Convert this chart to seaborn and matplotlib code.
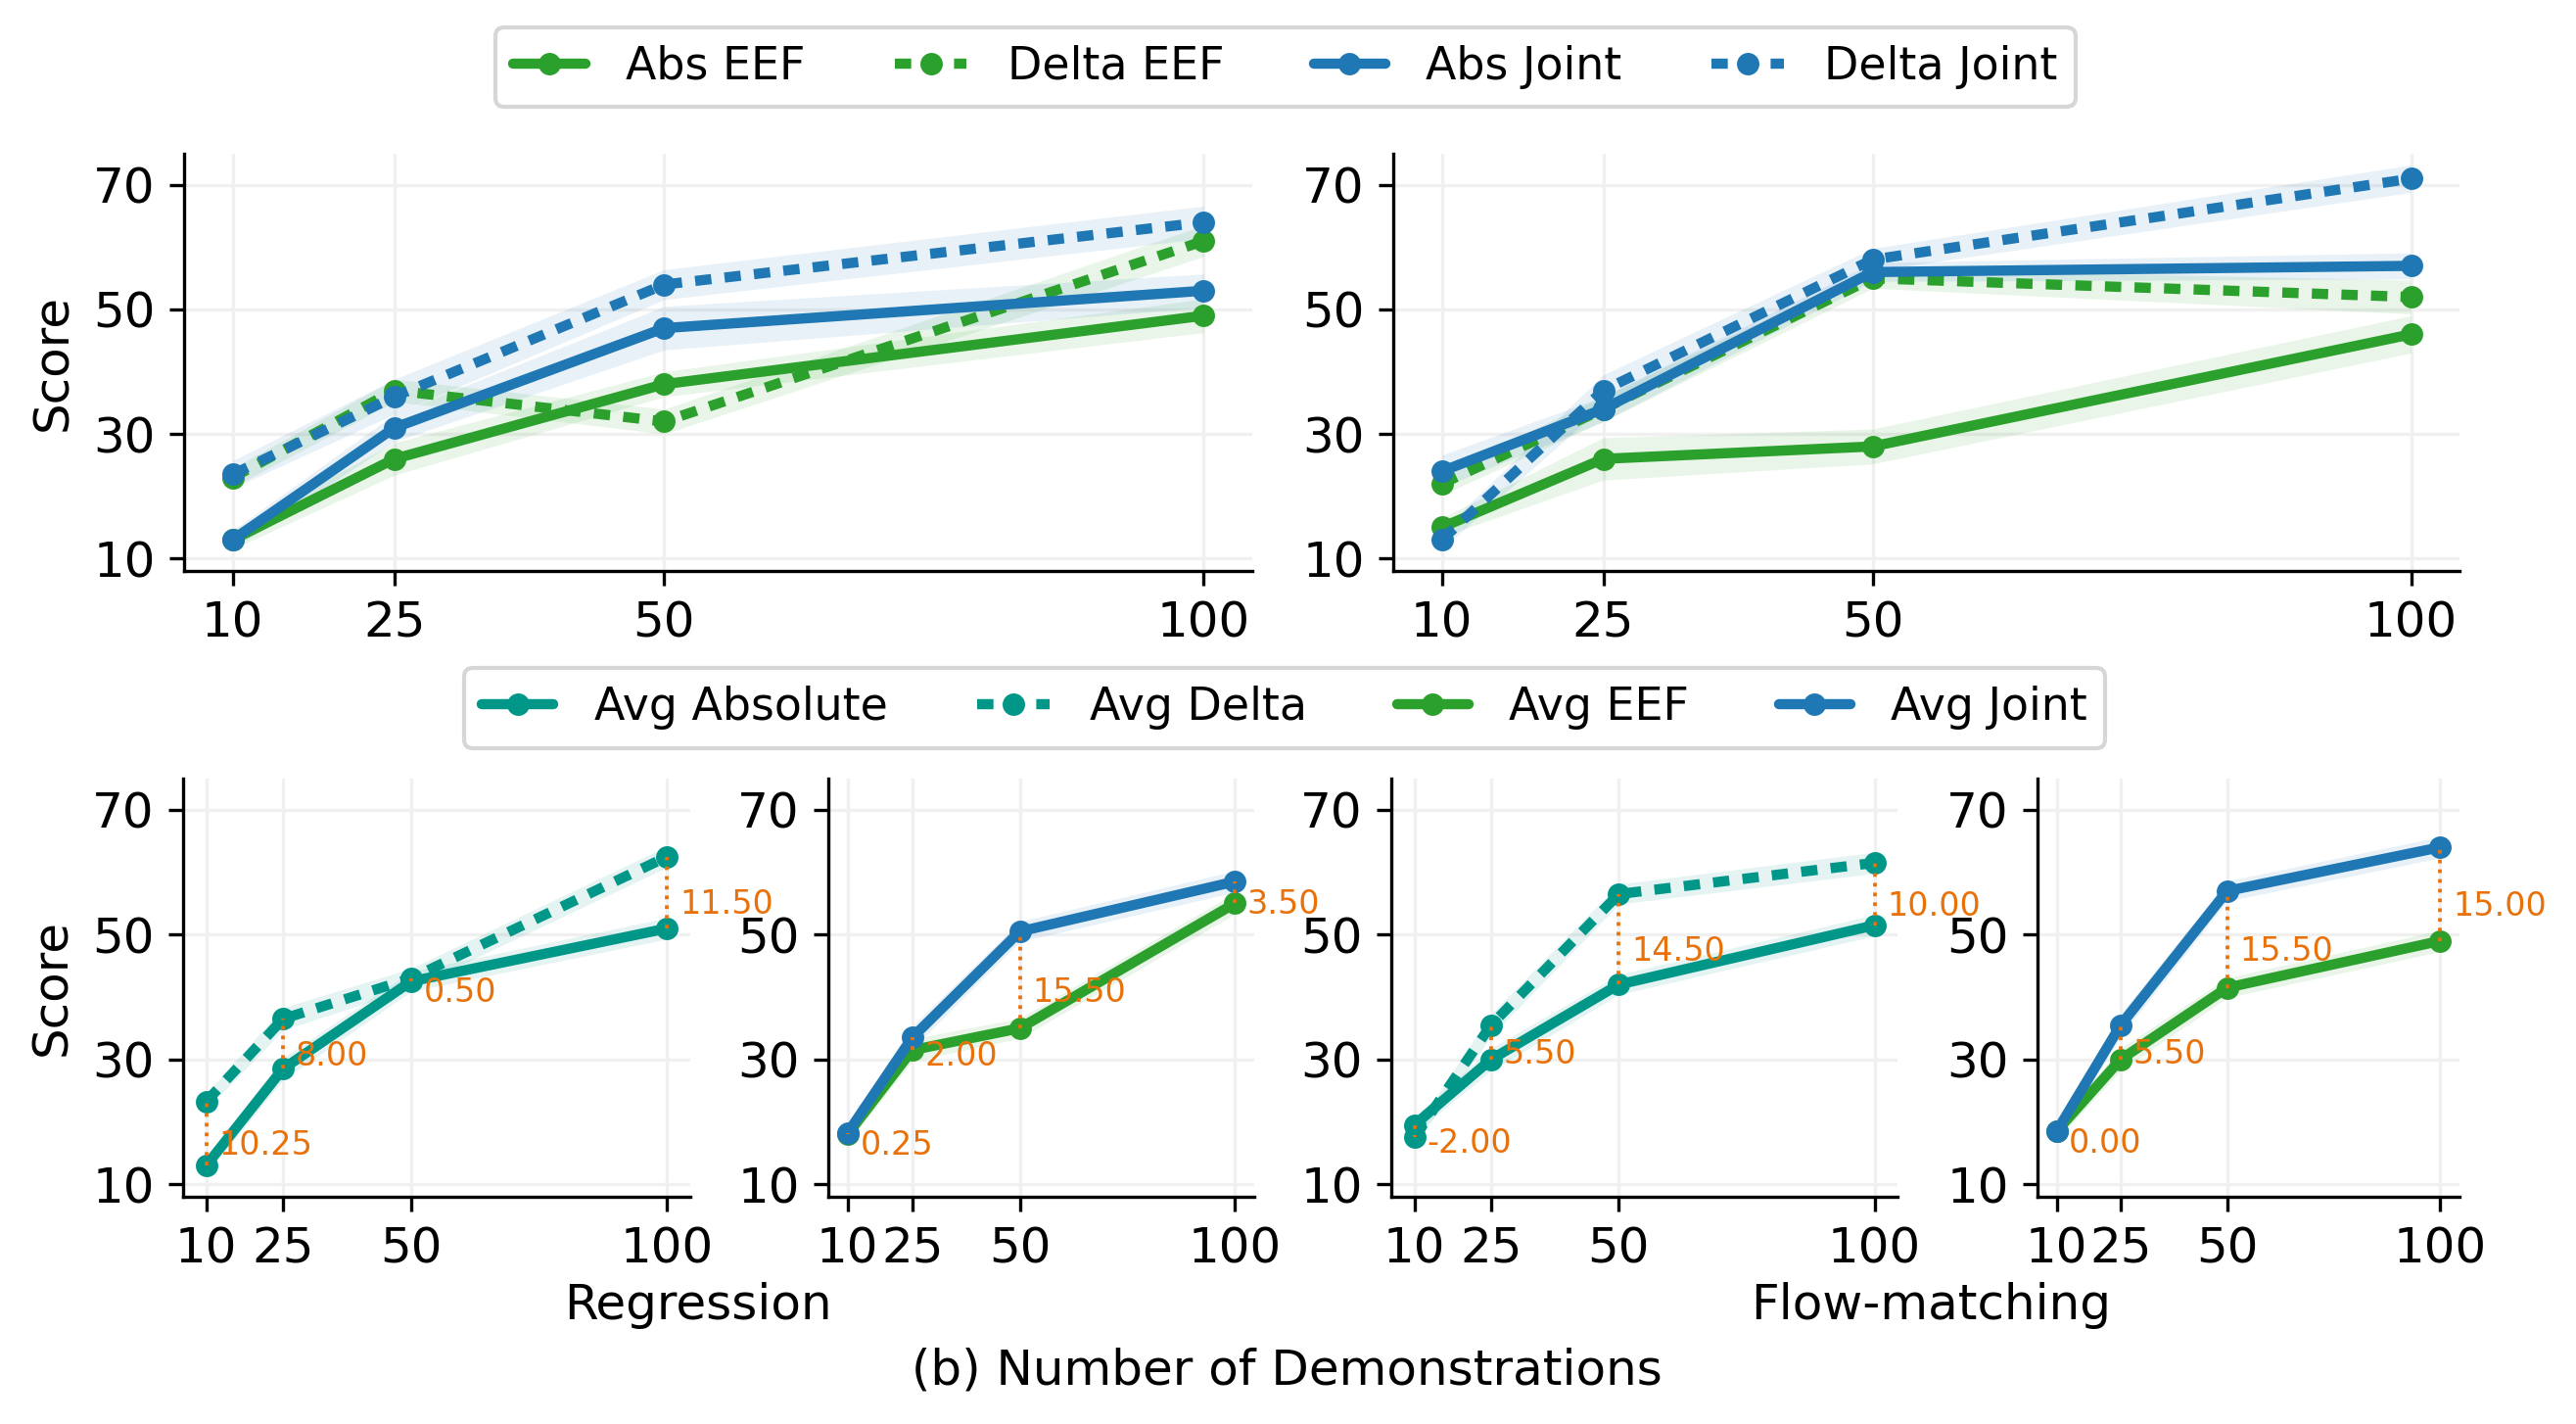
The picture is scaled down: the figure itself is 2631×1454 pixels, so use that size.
import matplotlib
matplotlib.use("Agg")
import matplotlib.pyplot as plt
import seaborn as sns
from matplotlib.lines import Line2D

# ---- data ----
demos = [10, 25, 50, 100]

# top row: per action-space scores (mean) and band half-widths
reg_abs_eef = [13, 26, 38, 49]
reg_delta_eef = [23, 37, 32, 61]
reg_abs_joint = [13, 31, 47, 53]
reg_delta_joint = [23.5, 36, 54, 64]
reg_abs_eef_err = [1.5, 2.6, 2.0, 2.7]
reg_delta_eef_err = [1.5, 1.8, 2.0, 2.5]
reg_abs_joint_err = [1.5, 2.2, 3.5, 2.7]
reg_delta_joint_err = [2.2, 2.8, 2.4, 2.6]

flow_abs_eef = [15, 26, 28, 46]
flow_delta_eef = [22, 34, 55, 52]
flow_abs_joint = [24, 34, 56, 57]
flow_delta_joint = [13, 37, 58, 71]
flow_abs_eef_err = [1.5, 3.4, 2.8, 3.0]
flow_delta_eef_err = [1.8, 2.0, 1.6, 2.7]
flow_abs_joint_err = [2.6, 2.0, 1.5, 2.1]
flow_delta_joint_err = [1.5, 2.5, 1.8, 2.2]

# bottom row: averaged scores
reg_avg_abs = [13, 28.5, 42.5, 51]
reg_avg_delta = [23.25, 36.5, 43, 62.5]
reg_avg_eef = [18, 31.5, 35, 55]
reg_avg_joint = [18.25, 33.5, 50.5, 58.5]
flow_avg_abs = [19.5, 30, 42, 51.5]
flow_avg_delta = [17.5, 35.5, 56.5, 61.5]
flow_avg_eef = [18.5, 30, 41.5, 49]
flow_avg_joint = [18.5, 35.5, 57, 64]
avg_err = [1.3, 1.8, 1.6, 1.7]

GREEN = "#2ca02c"
BLUE = "#1f77b4"
TEAL = "#009688"
ORANGE = "#e8710a"
DASH = (0, (1.6, 1.3))

sns.set_theme(style="ticks", rc={
    "axes.edgecolor": "black", "text.color": "black",
    "axes.labelcolor": "black", "xtick.color": "black",
    "ytick.color": "black", "xtick.labelsize": 12, "ytick.labelsize": 12,
    "axes.labelsize": 12, "axes.linewidth": 0.8,
    "xtick.major.size": 3.5, "ytick.major.size": 3.5,
    "xtick.major.width": 0.8, "ytick.major.width": 0.8,
    "xtick.major.pad": 3.5, "ytick.major.pad": 3.5,
})
plt.rcParams["font.family"] = ["DejaVu Sans"]

W, H = 2631, 1454
fig = plt.figure(figsize=(W / 300, H / 300), dpi=300)


def px_axes(x0, x1, y0, y1):
    return fig.add_axes([x0 / W, 1 - y1 / H, (x1 - x0) / W, (y1 - y0) / H])


def draw_series(ax, y, err, color, dashed, label):
    lo = [v - e for v, e in zip(y, err)]
    hi = [v + e for v, e in zip(y, err)]
    ax.fill_between(demos, lo, hi, color=color, alpha=0.1, linewidth=0)
    sns.lineplot(x=demos, y=y, ax=ax, color=color, marker="o",
                 markersize=5.5, markeredgewidth=0, linewidth=2.5,
                 linestyle=DASH if dashed else "-", label=label)


def style_axes(ax, ylabel=False):
    ax.set_xticks(demos)
    ax.set_yticks([10, 30, 50, 70])
    ax.set_ylim(8, 75)
    ax.margins(x=0.05)
    ax.grid(True, color="#f0f0f0", linewidth=0.8)
    ax.set_axisbelow(True)
    ax.set_xlabel("")
    ax.set_ylabel("Score" if ylabel else "")
    sns.despine(ax=ax)
    if ax.get_legend() is not None:
        ax.get_legend().remove()


def annotate_gap(ax, base, other):
    for x, a, b in zip(demos, base, other):
        ax.plot([x, x], [a, b], linestyle=":", color=ORANGE, linewidth=0.9, zorder=5)
        ax.annotate(f"{b - a:.2f}", xy=(x, (a + b) / 2), xytext=(3, -3),
                    textcoords="offset points", ha="left", va="center",
                    fontsize=8, color=ORANGE, annotation_clip=False, zorder=6)


# ---- top row ----
top_panels = [
    ((188, 1279), [(reg_abs_eef, reg_abs_eef_err), (reg_delta_eef, reg_delta_eef_err),
                   (reg_abs_joint, reg_abs_joint_err), (reg_delta_joint, reg_delta_joint_err)], True),
    ((1423, 2512), [(flow_abs_eef, flow_abs_eef_err), (flow_delta_eef, flow_delta_eef_err),
                    (flow_abs_joint, flow_abs_joint_err), (flow_delta_joint, flow_delta_joint_err)], False),
]
top_specs = [(GREEN, False, "Abs EEF"), (GREEN, True, "Delta EEF"),
             (BLUE, False, "Abs Joint"), (BLUE, True, "Delta Joint")]

for (x0, x1), series, ylab in top_panels:
    ax = px_axes(x0, x1, 157, 583)
    for (y, err), (c, d, lab) in zip(series, top_specs):
        draw_series(ax, y, err, c, d, lab)
    style_axes(ax, ylab)

# ---- bottom row ----
bottom_panels = [
    ((187, 705), reg_avg_abs, reg_avg_delta, (TEAL, False, "Avg Absolute"), (TEAL, True, "Avg Delta"), True),
    ((846, 1281), reg_avg_eef, reg_avg_joint, (GREEN, False, "Avg EEF"), (BLUE, False, "Avg Joint"), False),
    ((1421, 1938), flow_avg_abs, flow_avg_delta, (TEAL, False, "Avg Absolute"), (TEAL, True, "Avg Delta"), False),
    ((2081, 2512), flow_avg_eef, flow_avg_joint, (GREEN, False, "Avg EEF"), (BLUE, False, "Avg Joint"), False),
]
for (x0, x1), ya, yb, spa, spb, ylab in bottom_panels:
    ax = px_axes(x0, x1, 795, 1222)
    draw_series(ax, ya, avg_err, *spa)
    draw_series(ax, yb, avg_err, *spb)
    annotate_gap(ax, ya, yb)
    style_axes(ax, ylab)


def handle(color, dashed):
    return Line2D([], [], color=color, marker="o", markersize=5.5, markeredgewidth=0,
                  linewidth=2.5, linestyle=DASH if dashed else "-")


leg_kw = dict(loc="center", ncol=4, fontsize=11, frameon=True,
              handlelength=1.6, handletextpad=0.9, columnspacing=2.0)
fig.legend([handle(c, d) for c, d, _ in top_specs], [l for _, _, l in top_specs],
           bbox_to_anchor=(0.499, 0.953), **leg_kw)
bottom_specs = [(TEAL, False, "Avg Absolute"), (TEAL, True, "Avg Delta"),
                (GREEN, False, "Avg EEF"), (BLUE, False, "Avg Joint")]
fig.legend([handle(c, d) for c, d, _ in bottom_specs], [l for _, _, l in bottom_specs],
           bbox_to_anchor=(0.4987, 0.5028), **leg_kw)

fig.text(713 / W, 1 - 1333 / H, "Regression", ha="center", va="center", fontsize=12)
fig.text(1972 / W, 1 - 1333 / H, "Flow-matching", ha="center", va="center", fontsize=12)
fig.text(1314 / W, 1 - 1400 / H, "(b) Number of Demonstrations", ha="center", va="center", fontsize=12)

fig.savefig("out.png", dpi=300)
